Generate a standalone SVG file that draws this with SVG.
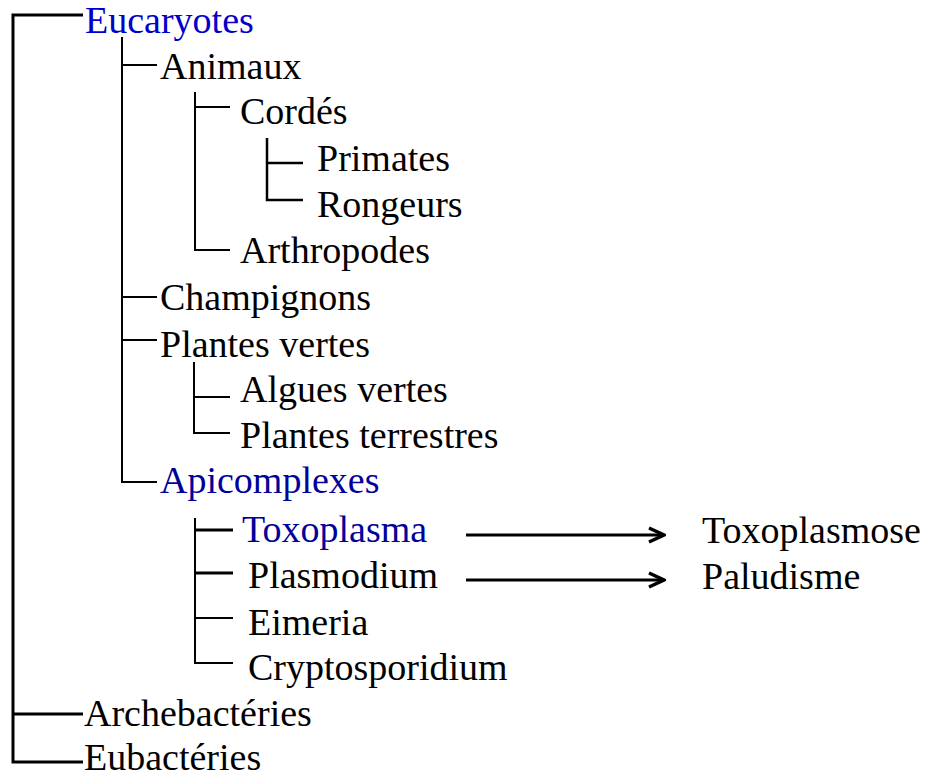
<svg xmlns="http://www.w3.org/2000/svg" width="931" height="778" viewBox="0 0 931 778">
<style>
.txt text{font-size:38px;fill:#000}
.txt .blue{fill:#0000CC}
.txt .navy{fill:#00009A}
.l{stroke:#000;fill:none;stroke-width:2}
.t3{stroke-width:3}
.arr{stroke:#000;stroke-width:3;fill:none}
</style>
<defs>
<marker id="ah" markerUnits="userSpaceOnUse" markerWidth="20" markerHeight="20" viewBox="-18 -10 20 20" refX="0" refY="0" orient="auto">
<path d="M-15,-7 L0,0 L-15,7" fill="none" stroke="#000" stroke-width="3.5"/>
</marker>
</defs>
<rect width="931" height="778" fill="#fff"/>
<g id="connectors">
<path class="l t3" d="M83,15 H13 V762 H83 M13,714 H83"/>
<path class="l" d="M122,37 V482 H157 M122,65 H157 M122,297 H157 M122,340 H157"/>
<path class="l" d="M195,92 V250 H230 M195,107 H230"/>
<path class="l" style="stroke-width:2.5" d="M267,138 V200 H303 M267,163 H303"/>
<path class="l" d="M194,362 V433 H230 M194,397 H230"/>
<path class="l" d="M195,518 V663 H233 M195,618 H233"/>
<path class="l t3" d="M195,530 H233 M195,573 H233"/>
<line class="arr" x1="466" y1="535" x2="664" y2="535" marker-end="url(#ah)"/>
<line class="arr" x1="466" y1="580" x2="664" y2="580" marker-end="url(#ah)"/>
</g>
<g class="txt" font-family="'Liberation Serif', 'Times New Roman', serif">
<g id="eucaryotes"><text class="blue" x="85" y="33">Eucaryotes</text></g>
<g id="animaux"><text x="160" y="79">Animaux</text></g>
<g id="cordes"><text x="240" y="124">Cordés</text></g>
<g id="primates"><text x="317" y="171">Primates</text></g>
<g id="rongeurs"><text x="317" y="217">Rongeurs</text></g>
<g id="arthropodes"><text x="240" y="263">Arthropodes</text></g>
<g id="champignons"><text x="160" y="310">Champignons</text></g>
<g id="plantes-vertes"><text x="160" y="357">Plantes vertes</text></g>
<g id="algues-vertes"><text x="240" y="402">Algues vertes</text></g>
<g id="plantes-terrestres"><text x="240" y="448">Plantes terrestres</text></g>
<g id="apicomplexes"><text class="navy" x="160" y="493">Apicomplexes</text></g>
<g id="toxoplasma"><text class="navy" x="242" y="542">Toxoplasma</text></g>
<g id="plasmodium"><text x="248" y="588">Plasmodium</text></g>
<g id="eimeria"><text x="248" y="635">Eimeria</text></g>
<g id="cryptosporidium"><text x="248" y="680">Cryptosporidium</text></g>
<g id="archebacteries"><text x="84" y="726">Archebactéries</text></g>
<g id="eubacteries"><text x="84" y="770">Eubactéries</text></g>
<g id="toxoplasmose"><text x="702" y="543">Toxoplasmose</text></g>
<g id="paludisme"><text x="702" y="589">Paludisme</text></g>
</g>
</svg>
